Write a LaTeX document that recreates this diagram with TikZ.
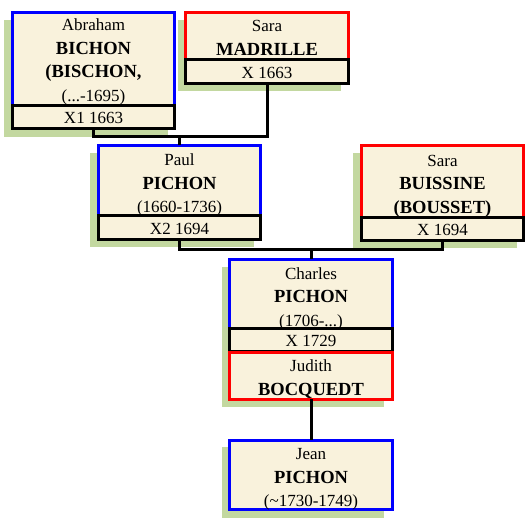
\documentclass[tikz,border=0pt]{standalone}
\usepackage{fontspec}
\setmainfont{Liberation Serif}
\usetikzlibrary{calc}
\definecolor{cream}{RGB}{249,242,220}
\definecolor{shadowgreen}{RGB}{195,216,160}
\newcommand{\nm}[1]{{\fontsize{18.5}{23.5}\selectfont\bfseries #1}}
\begin{document}
\begin{tikzpicture}[x=1pt,y=-1pt,
  pbox/.style={draw=#1,fill=cream,line width=3pt,rectangle,inner sep=0pt,outer sep=0pt},
  mbox/.style={pbox=black},
  txt/.style={inner sep=0pt,align=center,font=\fontsize{17}{23.5}\selectfont},
  conn/.style={line width=3pt,draw=black},
  shad/.style={fill=shadowgreen}]
\useasboundingbox (0,0) rectangle (530,520);
% shadows
\fill[shad] (4,20) rectangle (168,137);
\fill[shad] (178,20) rectangle (341,91);
\fill[shad] (90,153) rectangle (254,247);
\fill[shad] (353,153) rectangle (517,248);
\fill[shad] (222,267) rectangle (384,407);
\fill[shad] (222,447) rectangle (384,518);
% Abraham
\node[pbox=blue,minimum width=162pt,minimum height=93pt] (A) at (93.5,58.5) {};
\node[txt] (At) at ($(A.center)+(0,3.5)$) {Abraham\\\nm{BICHON}\\\nm{(BISCHON,}\\(...-1695)};
\node[mbox,minimum width=162pt,minimum height=23pt] (AX) at (93.5,116.5) {};
\node[txt] (AXt) at ($(AX.center)+(0,1.5)$) {X1 1663};
% Sara Madrille
\node[pbox=red,minimum width=163pt,minimum height=47pt] (S) at (267,35.5) {};
\node[txt] (St) at ($(S.center)+(0,2.5)$) {Sara\\\nm{MADRILLE}};
\node[mbox,minimum width=163pt,minimum height=24pt] (SX) at (267,71) {};
\node[txt] (SXt) at ($(SX.center)+(0,1.5)$) {X 1663};
% Paul
\node[pbox=blue,minimum width=162pt,minimum height=70pt] (P) at (179.5,180) {};
\node[txt] (Pt) at ($(P.center)+(0,5)$) {Paul\\\nm{PICHON}\\(1660-1736)};
\node[mbox,minimum width=162pt,minimum height=24pt] (PX) at (179.5,227) {};
\node[txt] (PXt) at ($(PX.center)+(0,1.5)$) {X2 1694};
% Sara Buissine
\node[pbox=red,minimum width=162pt,minimum height=72pt] (B) at (442.5,181) {};
\node[txt] (Bt) at ($(B.center)+(0,5)$) {Sara\\\nm{BUISSINE}\\\nm{(BOUSSET)}};
\node[mbox,minimum width=162pt,minimum height=23pt] (BX) at (442.5,228.5) {};
\node[txt] (BXt) at ($(BX.center)+(0,1.5)$) {X 1694};
% Charles
\node[pbox=blue,minimum width=163pt,minimum height=69pt] (C) at (311,293.5) {};
\node[txt] (Ct) at ($(C.center)+(0,5)$) {Charles\\\nm{PICHON}\\(1706-...)};
\node[mbox,minimum width=163pt,minimum height=23pt] (CX) at (311,339.5) {};
\node[txt] (CXt) at ($(CX.center)+(0,1.5)$) {X 1729};
\node[pbox=red,minimum width=163pt,minimum height=47pt] (Ju) at (311,375.5) {};
\node[txt] (Jut) at ($(Ju.center)+(0,3.5)$) {Judith\\\nm{BOCQUEDT}};
% Jean
\node[pbox=blue,minimum width=163pt,minimum height=69pt] (Je) at (311,474.5) {};
\node[txt] (Jet) at ($(Je.center)+(0,5)$) {Jean\\\nm{PICHON}\\(\char`\~1730-1749)};
% connectors
\coordinate (m1) at ($(P.north)+(0,-9)$);
\coordinate (m2) at ($(C.north)+(0,-10)$);
\draw[conn] (AX.south) |- (m1) -| (SX.south);
\draw[conn] (m1) -- (P.north);
\draw[conn] (PX.south) |- (m2) -| (BX.south);
\draw[conn] (m2) -- (C.north);
\draw[conn] (Ju.south) -- (Je.north);
\end{tikzpicture}
\end{document}
